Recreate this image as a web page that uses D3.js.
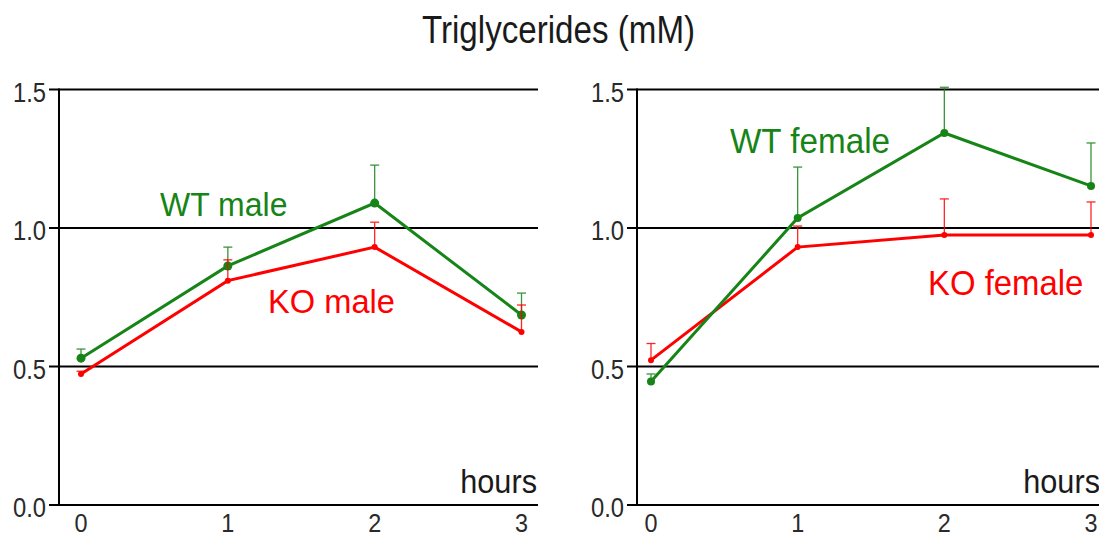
<!DOCTYPE html>
<html>
<head>
<meta charset="utf-8">
<script src="https://cdn.jsdelivr.net/npm/d3@7"></script>
<style>
  body { margin: 0; background: #fff; }
  svg { display: block; font-family: "Liberation Sans", Arial, sans-serif; }
</style>
</head>
<body>
<svg id="chart"></svg>
<script>
// data (mean and upper SEM bar, mM)
const hours = [0, 1, 2, 3];
const yTicks = [0, 0.5, 1.0, 1.5];
const yTickLabels = ["0.0", "0.5", "1.0", "1.5"];

const wtMale = [0.53, 0.863, 1.09, 0.686];
const wtMaleSem = [0.033, 0.068, 0.137, 0.079];
const koMale = [0.473, 0.81, 0.931, 0.625];
const koMaleSem = [0.01, 0.075, 0.09, 0.097];

const wtFemale = [0.446, 1.036, 1.343, 1.152];
const wtFemaleSem = [0.027, 0.184, 0.165, 0.155];
const koFemale = [0.523, 0.931, 0.975, 0.975];
const koFemaleSem = [0.06, 0.076, 0.13, 0.119];

const GREEN = "#168416";
const RED = "#ff0000";

const width = 1099, height = 538;
const svg = d3.select("#chart").attr("width", width).attr("height", height);

const y = d3.scaleLinear().domain([0, 1.5]).range([505, 89.5]);

// text with a slight horizontal squeeze, like the original rendering
function label(g, x, yy, txt, size, sx, color, anchor) {
    g.append("g")
        .attr("transform", `translate(${x},${yy}) scale(${sx},1)`)
        .append("text")
        .attr("text-anchor", anchor || "start")
        .attr("font-size", size)
        .attr("fill", color || "#111")
        .text(txt);
}

function drawPanel(p) {
    const g = svg.append("g");
    const x = d3.scaleLinear().domain([0, 3]).range(p.xRange);

    // grid lines / y ticks
    g.selectAll(".grid")
        .data(yTicks)
        .enter()
        .append("line")
        .attr("x1", p.axisX - 10)
        .attr("x2", p.right)
        .attr("y1", (d) => y(d))
        .attr("y2", (d) => y(d))
        .style("stroke", "#000")
        .style("stroke-width", 2);

    g.append("line")
        .attr("x1", p.axisX).attr("x2", p.axisX)
        .attr("y1", y(1.5) - 1).attr("y2", y(0) + 1)
        .style("stroke", "#000")
        .style("stroke-width", 2);

    yTicks.forEach((t, i) => {
        label(g, p.axisX - 13, y(t) + 12, yTickLabels[i], 28, 0.85, "#2a2a2a", "end");
    });

    hours.forEach((h) => {
        label(g, x(h), 532, String(h), 26, 0.9, "#2a2a2a", "middle");
    });

    label(g, p.hoursX, 493, "hours", 33, 0.93, "#1a1a1a", "end");

    p.series.forEach((s) => {
        const pts = hours.map((h, i) => ({ h: h, v: s.values[i], e: s.sem[i] }));

        // upper error bars
        const eb = g.append("g")
            .style("stroke", s.color)
            .style("stroke-width", 1.3)
            .style("opacity", 0.85);
        eb.selectAll(".bar")
            .data(pts)
            .enter()
            .append("line")
            .attr("x1", (d) => x(d.h)).attr("x2", (d) => x(d.h))
            .attr("y1", (d) => y(d.v)).attr("y2", (d) => y(d.v + d.e));
        eb.selectAll(".cap")
            .data(pts)
            .enter()
            .append("line")
            .attr("x1", (d) => x(d.h) - 4.5).attr("x2", (d) => x(d.h) + 4.5)
            .attr("y1", (d) => y(d.v + d.e)).attr("y2", (d) => y(d.v + d.e));

        g.append("path")
            .datum(pts)
            .attr("d", d3.line().x((d) => x(d.h)).y((d) => y(d.v)))
            .style("fill", "none")
            .style("stroke", s.color)
            .style("stroke-width", 3);

        g.selectAll(".dot-" + s.key)
            .data(pts)
            .enter()
            .append("circle")
            .attr("cx", (d) => x(d.h))
            .attr("cy", (d) => y(d.v))
            .attr("r", s.r)
            .style("fill", s.color);

        label(g, s.lx, s.ly, s.name, s.size, s.sx, s.color);
    });
}

drawPanel({
    axisX: 59, right: 538, xRange: [81, 521.5], hoursX: 537,
    series: [
        { key: "wtm", name: "WT male", values: wtMale, sem: wtMaleSem, color: GREEN, r: 4.5, lx: 160, ly: 216, size: 33, sx: 0.97 },
        { key: "kom", name: "KO male", values: koMale, sem: koMaleSem, color: RED, r: 3, lx: 268, ly: 313, size: 34, sx: 0.96 }
    ]
});

drawPanel({
    axisX: 637, right: 1110, xRange: [651, 1091], hoursX: 1100,
    series: [
        { key: "kof", name: "KO female", values: koFemale, sem: koFemaleSem, color: RED, r: 3, lx: 928, ly: 295, size: 35, sx: 0.94 },
        { key: "wtf", name: "WT female", values: wtFemale, sem: wtFemaleSem, color: GREEN, r: 4, lx: 730, ly: 153, size: 35, sx: 0.95 }
    ]
});

label(svg, 558.5, 43, "Triglycerides (mM)", 39, 0.85, "#1a1a1a", "middle");
</script>
</body>
</html>
